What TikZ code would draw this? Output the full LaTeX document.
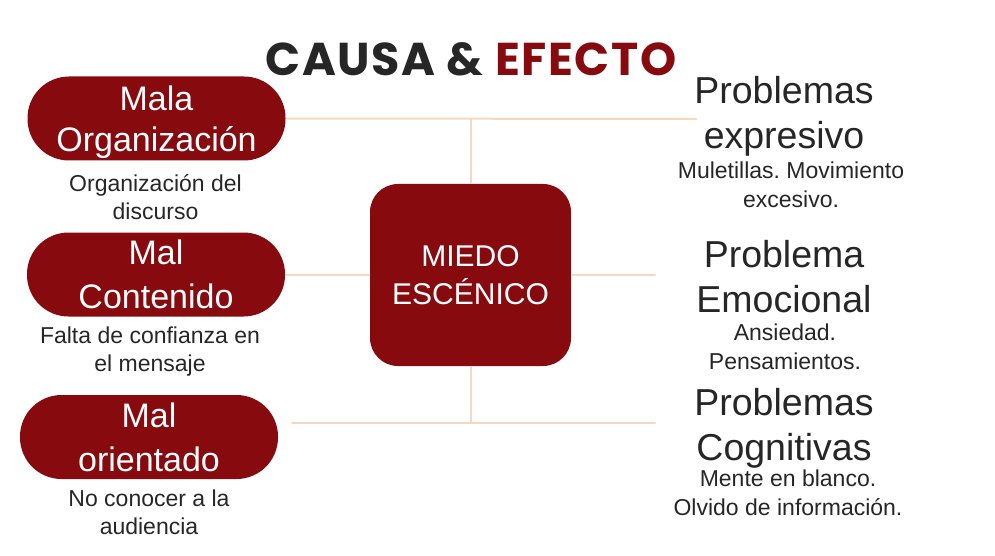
\documentclass[tikz,border=0pt]{standalone}
\usepackage{fontspec}
\usepackage{tikz}
\usepackage{xcolor}
\setmainfont{Liberation Sans}
\newfontfamily\titlefont{Poppins}[LetterSpace=3.5]

\definecolor{vino}{HTML}{870A0F}
\definecolor{tinta}{HTML}{262626}
\definecolor{durazno}{HTML}{F6D8C0}

\begin{document}
\frenchspacing
\begin{tikzpicture}[x=1pt,y=-1pt,line width=2pt,line cap=round,line join=round,
    pill/.style={fill=vino,text=white,rounded corners=41.5pt,minimum width=258pt,
        minimum height=84pt,inner sep=0pt,align=center,
        font=\fontsize{34}{44}\selectfont},
    nota/.style={text=tinta,inner sep=0pt,align=center,font=\fontsize{23}{28.5}\selectfont},
    efecto/.style={text=tinta,inner sep=0pt,align=center,font=\fontsize{37.5}{45}\selectfont},
    link/.style={draw=durazno,line width=2pt}]
\useasboundingbox (0,0) rectangle (995,556);

\node[anchor=base,font=\titlefont\bfseries\fontsize{46}{46}\selectfont] (titulo) at (471,76)
    {\textcolor{tinta}{CAUSA \&} \textcolor{vino}{EFECTO}};

%%%%%%%%%%%%%%%% CAUSAS %%%%%%%%%%%%%%%%%%%
\node[pill] (orgcausa) at (156.5,118.5) {\rule{0pt}{32pt}Mala\\[-3pt]Organización};
\node[pill] (contcausa) at (156,274.5) {Mal\\Contenido};
\node[pill] (oriecausa) at (149,437) {Mal\\orientado};

\node[nota] (orgnota) at (155.5,197) {Organización del\\discurso};
\node[nota] (contnota) at (150,351.5) {Falta de confianza en\\el mensaje};
\node[nota] (orienota) at (149,512.5) {No conocer a la\\audiencia};

%%%%%%%%%%%%%%%% CENTRO %%%%%%%%%%%%%%%%%%%
\node[fill=vino,text=white,rounded corners=28pt,minimum width=201pt,minimum height=182pt,
    inner sep=0pt,align=center,font=\fontsize{30}{37.5}\selectfont] (miedo) at (470.5,275)
    {MIEDO\\ESCÉNICO};

%%%%%%%%%%%%%%%% EFECTOS %%%%%%%%%%%%%%%%%%%
\node[efecto] (expresivo) at (784,116) {Problemas\\expresivo};
\node[efecto] (emocional) at (784,276.5) {Problema\\Emocional};
\node[efecto] (cognitivo) at (784,428) {Problemas\\Cognitivas};

\node[nota] (expnota) at (791,185) {Muletillas. Movimiento\\excesivo.};
\node[nota] (emonota) at (785,347) {Ansiedad.\\Pensamientos.};
\node[nota] (cognota) at (788,493) {Mente en blanco.\\Olvido de información.};

\coordinate (arriba) at (696,119);
\coordinate (medio) at (655,275);
\coordinate (abajoizq) at (292,423);
\coordinate (abajoder) at (655,423);

\draw[link] (orgcausa.east) -- (arriba);
\draw[link] (miedo.north) -- (miedo.north |- arriba);
\draw[link] (contcausa.east) -- (contcausa.east -| miedo.west);
\draw[link] (miedo.east) -- (medio);
\draw[link] (abajoizq) -- (abajoder);
\draw[link] (miedo.south) -- (miedo.south |- abajoizq);

\end{tikzpicture}
\end{document}
